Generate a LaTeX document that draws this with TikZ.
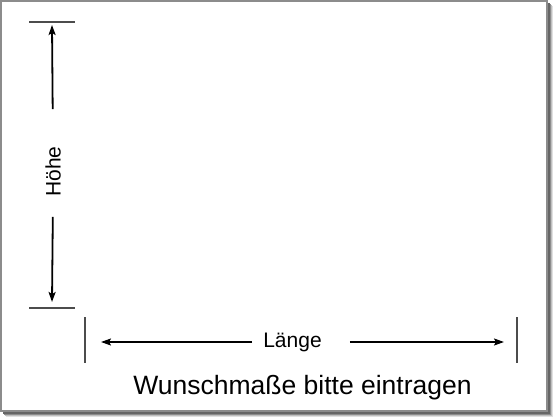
\documentclass[tikz,border=0pt]{standalone}
\usepackage{fontspec}
\setmainfont{Liberation Sans}
\usetikzlibrary{arrows.meta}

\tikzset{
  dimarrow/.style={-{Stealth[length=10pt,width=7pt,inset=2pt]}, line width=1.8pt, black},
  tickline/.style={line width=1.2pt, black!70},
  dimlabel/.style={inner sep=0pt, font=\fontsize{21}{24}\selectfont}
}

\begin{document}
\begin{tikzpicture}[x=1pt, y=-1pt]
    \useasboundingbox (0,0) rectangle (560,420);

    % shadow and sheet
    \foreach \d/\c in {6/12, 5/25, 4/45, 3/60}
        \fill[black!\c] (\d,\d) rectangle (547+\d,411+\d);
    \filldraw[fill=white, draw=black!45, line width=1.6pt] (1,1) rectangle (547,411);

    % ticks
    \draw[tickline] (29,22) -- (75,22);
    \draw[tickline] (29,308) -- (75,308);
    \draw[tickline] (85,317) -- (85,363);
    \draw[tickline] (517,317) -- (517,363);

    % labels
    \node[dimlabel, rotate=90] at (53,171.5)  (hoehe)  {Höhe};
    \node[dimlabel]            at (292.5,342) (laenge) {Länge};
    \node[anchor=base, inner sep=0pt, font=\fontsize{26.5}{30}\selectfont]
        at (302.5,394) (hint) {Wunschmaße bitte eintragen};

    \coordinate (htop) at (52,25);
    \coordinate (hbot) at (52,302);
    \coordinate (lleft) at (101,342);
    \coordinate (lright) at (504,342);

    \draw[dimarrow, shorten <=37pt] (hoehe.center |- hoehe.east) -- (htop);
    \draw[dimarrow, shorten <=20pt] (hoehe.center |- hoehe.west) -- (hbot);
    \draw[dimarrow, shorten <=11pt] (laenge.west) -- (lleft);
    \draw[dimarrow, shorten <=28pt] (laenge.east) -- (lright);
\end{tikzpicture}
\end{document}
